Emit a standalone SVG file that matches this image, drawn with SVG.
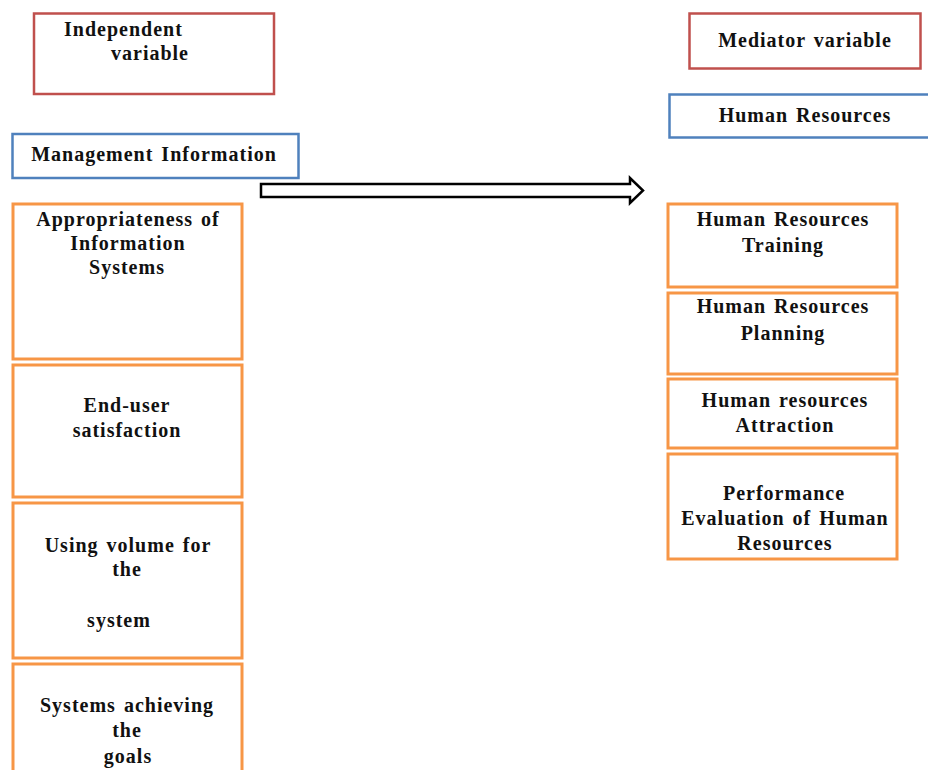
<svg xmlns="http://www.w3.org/2000/svg" width="928" height="770" viewBox="0 0 928 770">
<style>
.red{fill:#fff;stroke:#C0504D;stroke-width:2.5}
.blue{fill:#fff;stroke:#4F81BD;stroke-width:2.5}
.org{fill:#fff;stroke:#F79646;stroke-width:3}
text{font-family:"Liberation Serif","Times New Roman",serif;font-weight:bold;font-size:20px;fill:#111;letter-spacing:1px;word-spacing:2px}
.c{text-anchor:middle}
</style>
<rect width="928" height="770" fill="#fff"/>
<g id="independent">
<rect class="red" x="34" y="13.5" width="240" height="80.5"/>
<text x="64" y="36">Independent</text>
<text x="111" y="60">variable</text>
</g>
<g id="mediator">
<rect class="red" x="689.5" y="13.5" width="231" height="55"/>
<text class="c" x="805" y="47">Mediator variable</text>
</g>
<g id="management-information">
<rect class="blue" x="12.5" y="134" width="286" height="44"/>
<text class="c" x="154" y="161">Management Information</text>
</g>
<g id="human-resources">
<rect class="blue" x="669.5" y="94.5" width="262" height="43"/>
<text class="c" x="805" y="122">Human Resources</text>
</g>
<g id="appropriateness">
<rect class="org" x="13" y="204" width="229" height="155"/>
<text class="c" x="128" y="226">Appropriateness of</text>
<text class="c" x="128" y="250">Information</text>
<text class="c" x="127" y="274">Systems</text>
</g>
<g id="end-user">
<rect class="org" x="13" y="365" width="229" height="132"/>
<text class="c" x="127" y="412">End-user</text>
<text class="c" x="127" y="437">satisfaction</text>
</g>
<g id="using-volume">
<rect class="org" x="13" y="503" width="229" height="155"/>
<text class="c" x="128" y="552">Using volume for</text>
<text class="c" x="127" y="576">the</text>
<text class="c" x="119" y="627">system</text>
</g>
<g id="systems-achieving">
<rect class="org" x="13" y="664" width="229" height="120"/>
<text class="c" x="127" y="712">Systems achieving</text>
<text class="c" x="127" y="737">the</text>
<text class="c" x="128" y="763">goals</text>
</g>
<g id="hr-training">
<rect class="org" x="668" y="204" width="229" height="83"/>
<text class="c" x="783" y="226">Human Resources</text>
<text class="c" x="783" y="252">Training</text>
</g>
<g id="hr-planning">
<rect class="org" x="668" y="293" width="229" height="81"/>
<text class="c" x="783" y="313">Human Resources</text>
<text class="c" x="783" y="340">Planning</text>
</g>
<g id="hr-attraction">
<rect class="org" x="668" y="379" width="229" height="69"/>
<text class="c" x="785" y="407">Human resources</text>
<text class="c" x="785" y="432">Attraction</text>
</g>
<g id="performance-evaluation">
<rect class="org" x="668" y="454" width="229" height="105"/>
<text class="c" x="784" y="500">Performance</text>
<text class="c" x="785" y="525">Evaluation of Human</text>
<text class="c" x="785" y="550">Resources</text>
</g>
<g id="connectors">
<polygon points="261,184 630,184 630,178 643,190.5 630,203 630,197 261,197" fill="#fff" stroke="#000" stroke-width="2.5" stroke-linejoin="miter"/>
</g>
</svg>
